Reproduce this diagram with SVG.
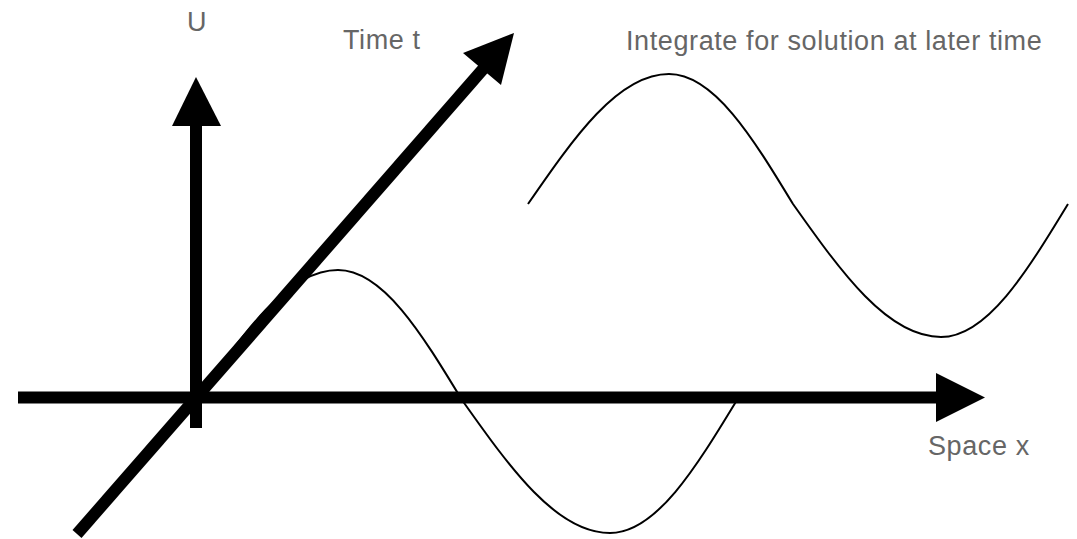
<svg xmlns="http://www.w3.org/2000/svg" width="1077" height="539" viewBox="0 0 1077 539">
  <style>
    .axis { stroke: #000; stroke-width: 12; fill: none; }
    .head { fill: #000; stroke: none; }
    .wave { stroke: #000; stroke-width: 2; fill: none; }
    .lbl { font-family: "Liberation Sans", Arial, sans-serif; font-size: 27px; fill: #666666; letter-spacing: 0.6px; }
  </style>
  <rect width="1077" height="539" fill="#ffffff"/>
  <g id="waves">
    <path id="wave-initial" class="wave" d="M197,400 C243,333.4 287,270 338,270 C382.9,270 421.6,333.4 462,400 C510.2,468.1 556.4,533 610,533 C656,533 695.6,468.1 737,400"/>
    <path id="wave-later" class="wave" transform="translate(331,-196)" d="M197,400 C243,333.4 287,270 338,270 C382.9,270 421.6,333.4 462,400 C510.2,468.1 556.4,533 610,533 C656,533 695.6,468.1 737,400"/>
  </g>
  <g id="connectors">
    <g id="axis-u">
      <line class="axis" x1="196" y1="428" x2="196" y2="124"/>
      <polygon class="head" points="196,77 172,126 221,126"/>
    </g>
    <g id="axis-x">
      <line class="axis" x1="18" y1="397.5" x2="938" y2="397.5"/>
      <polygon class="head" points="985,397.5 936,373 936,422"/>
    </g>
    <g id="axis-t">
      <line class="axis" x1="77" y1="534" x2="484" y2="68"/>
      <polygon class="head" points="514,33 463,53 501,85"/>
    </g>
  </g>
  <g id="labels">
    <text id="label-u" class="lbl" x="187" y="31">U</text>
    <text id="label-t" class="lbl" x="343" y="49">Time t</text>
    <text id="label-integrate" class="lbl" x="626" y="50">Integrate for solution at later time</text>
    <text id="label-x" class="lbl" x="928" y="455">Space x</text>
  </g>
</svg>
